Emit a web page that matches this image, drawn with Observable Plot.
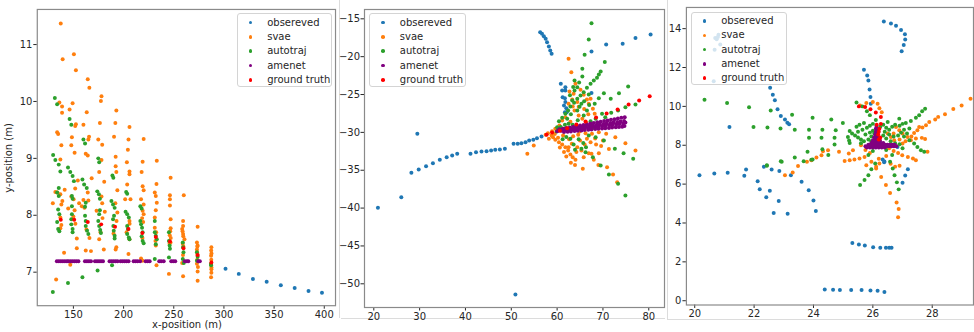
<!DOCTYPE html>
<html><head><meta charset="utf-8">
<script src="https://cdn.jsdelivr.net/npm/d3@7"></script>
<script src="https://cdn.jsdelivr.net/npm/@observablehq/plot@0.6"></script>
<style>
body{margin:0;background:#fff;font-family:"DejaVu Sans",sans-serif;}
#root{position:relative;width:974px;height:332px;overflow:hidden;background:#fff;}
.panel{position:absolute;top:0;overflow:hidden;}
.legend{position:absolute;border:1px solid #d4d4d4;border-radius:3px;background:rgba(255,255,255,0.8);box-sizing:border-box;}
.legend .row{position:absolute;left:0;height:14px;width:100%;}
.legend .mk{position:absolute;width:3.6px;height:3.6px;border-radius:50%;top:5.2px;}
.legend .tx{position:absolute;top:0;font-size:10px;line-height:14px;color:#262626;white-space:nowrap;}
.lbl{position:absolute;font-size:10px;color:#262626;white-space:nowrap;}
.edge{position:absolute;background:#dcdcdc;}
</style></head><body><div id="root"></div>
<script>
const seriesNames = ["obsereved", "svae", "autotraj", "amenet", "ground truth"];
const seriesColors = ["#1f77b4", "#ff7f0e", "#2ca02c", "purple", "red"];

// ---------- Panel 1 ----------
const p1Ticks = {x: [150, 200, 250, 300, 350, 400], y: [7, 8, 9, 10, 11]};
const p1Observed = [[301.6,7.06],[314.8,6.97],[328.9,6.88],[342.6,6.83],[356.7,6.77],[370.5,6.72],[384.3,6.67],[397.7,6.64]];
const p1Svae = [
[137.4,11.37],[139.3,10.74],[136,9.98],[138.7,9.91],[138.7,9.80],[133.8,9.46],[134.8,9.43],[138,9.23],[137,8.98],[132,8.41],[137,8.37],[129.5,8.21],[141.3,8.45],[138,8.19],[137,7.96],[138,7.83],[137,7.77],[140.7,7.34],[132.8,6.87],[134,8.4],[139,8.25],
[150.5,10.83],[152.5,10.55],[149.2,9.97],[146.2,9.86],[152.5,9.60],[151.8,9.57],[148.5,9.37],[147.9,9.23],[151.2,9.10],[154.4,8.61],[151.8,8.47],[147.9,8.33],[150.2,8.28],[144.8,8.12],[155.7,8.21],[151.2,8.09],[153.4,7.59],[153.4,7.42],[146.9,7.13],[150,7.98],[152,7.85],
[164.3,10.39],[165.9,10.24],[163.3,9.81],[160,9.59],[165.6,9.38],[164.9,9.33],[162.3,9.08],[164.3,9.05],[160,8.27],[164.9,8.26],[161,8.13],[168.2,8.65],[158.4,8.16],[162.3,7.38],[167.5,7.37],[164.3,8.40],[163,7.75],[166,7.6],
[178,10.09],[177.4,10.01],[176.4,9.62],[178.7,9.24],[174.8,9.33],[178,8.97],[175.7,8.76],[180.7,8.59],[178,8.33],[178.7,8.21],[173.1,8.08],[181.3,8.06],[175.7,7.58],[180.3,7.40],[177,7.7],[179,7.95],
[192.8,9.84],[191.8,9.62],[190.5,9.38],[192.1,9.03],[192.1,8.86],[192.8,8.76],[193.8,8.44],[191.8,8.21],[193.8,8.05],[192.8,7.44],[192.1,7.40],[190,7.68],[193,7.9],
[205.9,9.55],[204.9,9.33],[204.3,9.15],[203.3,8.93],[205.9,8.77],[205.9,8.72],[203.6,8.54],[206.9,8.28],[205.9,7.90],[205.9,7.58],[204.9,7.32],[201.6,8.28],[203,7.7],[206,7.85],
[220,9.34],[219,8.94],[218,8.76],[219,8.51],[220,8.44],[217.4,8.28],[220,8.19],[219,8.08],[220,8.02],[217.4,7.24],[219,7.20],[218.5,7.95],[219.5,7.88],[218.8,7.6],
[233.1,8.96],[232.8,8.55],[231.1,8.40],[232.1,8.34],[233.1,8.22],[232.1,8.09],[231.1,7.96],[231.1,7.78],[232.1,7.47],[232.8,7.12],[232.5,7.7],[231.8,7.55],
[246.9,8.66],[246.2,8.35],[246.2,8.28],[246.2,8.17],[246.9,7.93],[246.9,7.77],[245.2,6.97],[247,7.6],[246.5,7.72],[246,7.65],[246.8,7.52],[245.8,7.5],
[260,8.35],[259.3,7.90],[259.3,7.81],[258.4,7.76],[259.3,7.67],[260.7,7.58],[258.4,7.16],[259.3,6.93],[258.8,7.72],[259.5,7.63],[259,7.5],[259.6,7.45],[259.2,7.3],
[273.8,7.80],[273.1,7.52],[273.8,7.47],[273.1,7.40],[274.1,7.09],[273.8,7.01],[273.8,6.85],[273.5,7.45],[273.2,7.35],[273.6,7.3],[273.4,7.22],[273.1,7.15],
[287.5,7.44],[287.2,7.29],[287.5,7.05],[287.5,6.99],[287.2,6.91],[287.3,7.38],[287.6,7.33],[287.4,7.22],[287.2,7.13],[287.6,7.08]];
const p1Autotraj = [
[131.5,10.06],[133.8,9.95],[129.8,9.06],[132,8.97],[135.4,8.89],[137,8.77],[135.4,8.48],[133.8,8.40],[135.4,8.34],[134.8,8.10],[136,8.02],[133.8,7.88],[134.8,7.76],[136,7.72],[129.5,6.65],
[146.2,9.69],[147.9,9.59],[144.6,8.84],[146.9,8.76],[149.2,8.69],[150.5,8.60],[148.5,8.34],[149.2,8.29],[148.5,8.16],[148.5,8.02],[147.9,7.93],[147.9,7.84],[149.2,7.76],[149.2,7.70],[144.6,6.81],
[160,9.33],[161.6,9.26],[159,8.63],[160.7,8.54],[163.3,8.48],[162.3,8.22],[161.6,8.15],[161.6,7.99],[162.3,7.90],[162.3,7.81],[163.6,7.73],[164.9,7.67],[159,6.91],
[174.8,9.00],[175.7,8.93],[173.8,8.42],[175.4,8.37],[176.4,8.29],[176.4,8.09],[175.7,8.02],[174.8,7.90],[175.7,7.81],[176.7,7.74],[177.4,7.69],[174.1,7.03],
[188.9,8.70],[189.8,8.66],[187.9,8.25],[189.5,8.19],[191.1,8.13],[190.5,7.99],[189.5,7.93],[189.8,7.81],[190.2,7.73],[191.1,7.64],[191.1,7.59],[188.5,7.12],
[202.6,8.41],[203.6,8.38],[202,8.06],[203.6,8.02],[205.2,7.96],[203.6,7.81],[204.3,7.76],[203.6,7.67],[205.2,7.61],[205.9,7.58],
[216.7,8.16],[218,8.12],[216.7,7.90],[217.4,7.84],[218.4,7.78],[219,7.70],[218,7.63],[219,7.55],[220,7.51],
[231.1,7.90],[231.1,7.70],[232.1,7.64],[233.1,7.58],[232.1,7.49],[231.1,7.23],
[245.2,7.70],[245.2,7.55],[245.9,7.47],[246.2,7.41],[245.2,7.26],
[259,7.52],[259.3,7.44],[259.7,7.35],[259,7.23],[260,7.16],
[273.1,7.35],[273.8,7.27],[273.1,7.20],
[287.2,7.15],[287.2,7.12]];
const p1Amenet = [
[133.5,7.19],[135.5,7.19],[137.5,7.19],[139.5,7.19],[141.5,7.19],[143.5,7.19],[145,7.19],
[147,7.19],[149,7.19],[151,7.19],[153,7.19],[155,7.19],
[161.5,7.19],[163.5,7.19],[165.5,7.19],[167.5,7.19],
[171.5,7.19],[173.5,7.19],[175.5,7.19],[177.5,7.19],[179.5,7.19],
[186,7.19],[188,7.19],[190,7.19],[192,7.19],[194,7.19],
[197,7.19],[199,7.19],[201,7.19],[203,7.19],[205,7.19],
[210,7.19],[212,7.19],[214,7.19],[216.5,7.19],
[222,7.19],[224,7.19],[226,7.19],
[235.5,7.19],[237.5,7.19],[240,7.19],
[247.5,7.19],[249.5,7.19],[251.5,7.19],
[261,7.19],[263,7.19],[264.5,7.19],
[274.5,7.19],[276,7.19]];
const p1Truth = [[137.4,7.92],[150.8,7.92],[164.3,7.88],[177.7,7.84],[191.5,7.80],[204.9,7.76],[218.7,7.69],[232.1,7.62],[246.2,7.54],[259.7,7.42],[273.8,7.30],[287.5,7.17]];

// ---------- Panel 2 ----------
const p2Ticks = {x: [20, 30, 40, 50, 60, 70, 80], y: [-50, -45, -40, -35, -30, -25, -20, -15]};
const p2Observed = [
[20.9,-39.97],[26.0,-38.56],[28.2,-35.34],[29.8,-34.9],[29.5,-30.19],[31.4,-34.46],[32.9,-34.07],[34.4,-33.63],[35.9,-33.27],[37.1,-33.05],[38.2,-32.83],
[41.1,-32.83],[42.3,-32.61],[43.5,-32.53],[44.6,-32.48],[45.6,-32.39],[46.5,-32.3],[47.5,-32.26],[48.6,-32.17],
[50.5,-31.51],[51.4,-31.51],[52.2,-31.42],[53.1,-31.29],[53.9,-31.07],[54.8,-30.98],[55.6,-30.76],[56.6,-30.54],
[50.9,-51.42],
[56.3,-16.76],[56.7,-16.98],[57.1,-17.29],[57.5,-17.64],[57.8,-18.08],[58.2,-18.65],[58.5,-19.18],[58.8,-19.62],
[67.5,-19.32],[70.7,-18.39],[74.3,-18.30],[77.1,-17.55],[80.4,-17.07],
[60.8,-23.59],[61.8,-24.03],[61.1,-24.47],[61.8,-24.47],[61.2,-25.35],[61.7,-25.48],[61.8,-26.0],[61.5,-26.45],[62.0,-26.8],[61.7,-27.33],[62.1,-27.33],[67.5,-24.8]];
const p2Svae = [
[62.5,-20.28],[63.1,-22.05],[64.0,-23.59],[65.1,-24.38],[65.8,-25.04],[66.5,-25.66],[63.3,-25.66],[62.5,-26.23],[63.4,-26.58],[64.4,-26.0],[67.3,-25.57],[66.9,-26.23],[67.8,-26.89],[68.2,-27.55],
[61.8,-27.99],[61.1,-28.43],[60.5,-29.09],[59.6,-29.53],[58.9,-29.84],[58.0,-30.1],[53.5,-32.83],[54.9,-31.73],[59.1,-30.63],[59.6,-30.98],[60.4,-31.29],[61.1,-31.6],[61.8,-31.95],[62.4,-32.39],
[62.9,-32.92],[63.4,-33.27],[64.0,-33.63],[65.6,-34.82],[66.9,-32.75],[67.5,-32.83],[69.1,-32.75],[68.5,-31.6],[70.0,-31.07],[70.7,-30.19],[72.7,-30.63],[74.9,-31.42],[77.1,-32.39],
[70.9,-34.6],[72.2,-35.56],[73.1,-36.58],[64.4,-31.95],[65.3,-32.39],[65.8,-33.27],[62.5,-31.95],[65.0,-31.07],[66.5,-30.85],[67.6,-30.19],[69.1,-29.97],[58.2,-30.85],[58.8,-30.41],
[63.8,-27.11],[64.7,-27.77],[65.5,-28.21],[66.3,-28.65],[57.5,-30.3],[59.5,-30.2],[60.2,-30.7],[61.3,-30.4],[62.6,-30.9],[63.5,-30.5],[64.6,-30.3],[63.2,-31.5],[64.2,-32.6],[61.5,-32.6],
[60.6,-32.0],[62.0,-33.2],[63.0,-34.0],[63.9,-34.3],[66.0,-31.6],[67.3,-31.3],[68.3,-30.8],[69.6,-31.8],[71.3,-32.2],[68.0,-33.6],[69.0,-34.3],[62.9,-28.6],[63.9,-29.3],[61.9,-29.5],
[64.7,-26.6],[65.9,-26.9],[66.8,-27.6],[62.7,-24.6],[63.6,-24.9],[64.9,-29.9],[66.2,-30.1],[60.3,-29.7]];
const p2Autotraj = [
[67.5,-15.57],[66.9,-17.73],[66.0,-19.76],[70.4,-20.72],[65.5,-21.6],[69.5,-21.96],[69.1,-22.35],[68.7,-22.79],[68.0,-23.15],[67.3,-23.59],[66.5,-24.11],[65.8,-24.69],[65.1,-25.13],[64.4,-25.57],
[65.5,-22.62],[63.8,-23.15],[64.4,-24.03],[70.2,-24.82],[69.1,-25.48],[68.2,-26.23],[71.7,-25.57],[73.5,-24.82],[75.5,-23.94],[77.1,-26.32],[74.9,-26.67],[73.3,-27.11],[69.8,-27.55],[68.4,-28.21],[67.3,-28.52],
[63.3,-25.79],[62.9,-26.58],[62.4,-27.11],[61.8,-27.55],[61.1,-28.08],[60.4,-28.52],[60.0,-29.31],[62.9,-30.85],[63.6,-31.6],[65.3,-32.17],[66.2,-32.61],[66.3,-31.95],[67.8,-33.27],[69.5,-34.38],
[71.3,-35.56],[73.3,-36.8],[74.9,-38.34],[74.5,-32.75],[76.6,-33.49],[72.6,-32.17],[70.2,-31.07],[68.4,-30.63],[66.9,-30.41],[64.2,-29.31],[62.5,-28.87],[61.5,-29.53],[64.4,-27.11],[65.8,-27.77],
[66.5,-27.11],[65.3,-26.23],[63.8,-24.47],[62.2,-28.2],[63.0,-27.6],[63.7,-26.1],[64.9,-26.6],[65.9,-25.9],[66.9,-25.0],[64.5,-28.4],[61.7,-29.0],[60.8,-29.3],[59.9,-29.9],[63.4,-29.0],
[64.7,-30.9],[65.7,-31.4],[63.9,-32.3],[62.0,-30.6],[61.2,-30.9],[67.9,-29.4],[70.5,-28.0],[71.8,-27.4],[67.0,-26.4],[62.8,-25.1],[63.5,-24.0],[64.8,-23.4]];
const p2Amenet = [
[60.5,-29.6],[61.25,-29.52],[62,-29.43],[62.75,-29.35],[63.5,-29.26],[64.25,-29.18],[65,-29.1],[65.75,-29.01],[66.5,-28.93],[67.25,-28.84],[68,-28.76],[68.75,-28.67],[69.5,-28.59],[70.25,-28.51],[71,-28.42],[71.75,-28.34],[72.5,-28.25],[73.25,-28.17],[74,-28.08],[74.75,-28.0],
[60.3,-29.75],[61.1,-29.68],[61.8,-29.62],[62.6,-29.55],[63.3,-29.49],[64.1,-29.42],[64.8,-29.36],[65.6,-29.29],[66.3,-29.22],[67.1,-29.16],[67.8,-29.09],[68.6,-29.03],[69.3,-28.96],[70.1,-28.9],[70.8,-28.83],[71.6,-28.76],[72.3,-28.7],[73.1,-28.63],[73.8,-28.57],[74.6,-28.5],
[60.0,-29.85],[60.9,-29.8],[61.6,-29.74],[62.4,-29.69],[63.1,-29.64],[63.9,-29.59],[64.6,-29.53],[65.4,-29.48],[66.1,-29.43],[66.9,-29.38],[67.6,-29.32],[68.4,-29.27],[69.1,-29.22],[69.9,-29.17],[70.6,-29.11],[71.4,-29.06],[72.1,-29.01],[72.9,-28.96],[73.6,-28.9],[74.4,-28.85],
[61.5,-29.95],[62.3,-29.91],[63.0,-29.87],[63.8,-29.83],[64.5,-29.78],[65.3,-29.74],[66.0,-29.7],[66.8,-29.66],[67.5,-29.62],[68.3,-29.57],[69.0,-29.53],[69.8,-29.49],[70.5,-29.45],[71.3,-29.41],[72.0,-29.36],[72.8,-29.32],[73.5,-29.28],[74.2,-29.24],[74.7,-29.15],[74.9,-28.7]];
const p2Truth = [[57.7,-30.32],[58.9,-30.02],[60.6,-29.8],[62.2,-29.45],[64.2,-28.96],[66.2,-28.56],[68.5,-28.04],[70.8,-27.51],[73.2,-26.98],[75.6,-26.32],[77.9,-25.79],[80.2,-25.22]];

// ---------- Panel 3 ----------
const p3Ticks = {x: [20, 22, 24, 26, 28], y: [0, 2, 4, 6, 8, 10, 12, 14]};
const p3Observed = [
[20.16,6.46],[20.66,6.55],[21.11,6.58],[21.67,6.43],[21.73,6.75],[22.12,6.15],[22.19,5.74],[22.41,5.33],[22.33,6.89],[22.59,6.75],[22.53,5.66],[22.85,6.67],[22.83,5.13],[22.66,4.51],[23.13,4.48],
[23.24,6.46],[23.60,6.12],[23.84,5.69],[24.0,5.16],[24.08,4.62],
[25.31,2.97],[25.53,2.89],[25.73,2.84],[26.01,2.75],[26.25,2.73],[26.44,2.73],[26.55,2.73],[26.63,2.72],
[24.38,0.58],[24.66,0.56],[24.89,0.55],[25.27,0.55],[25.62,0.55],[25.92,0.53],[26.16,0.51],[26.39,0.45],
[27.09,6.44],[27.18,6.77],[27.0,6.07],[26.38,7.13],
[26.37,14.37],[26.61,14.27],[26.78,14.15],[26.95,13.93],[27.08,13.71],[27.09,13.44],[27.04,13.16],[26.97,12.84],
[20.69,13.52],[20.8,13.69],[20.78,13.57],[20.86,13.18],[20.67,12.92],[20.64,11.29],[20.74,13.45],
[21.17,8.94],[22.54,10.96],[22.63,10.6],[22.7,10.31],[22.79,9.85],[22.9,9.51],[23.04,9.33],[23.12,9.16],[23.18,9.08],
[25.7,11.88],[25.81,11.59],[25.85,11.33],[25.89,10.87],[25.92,10.48],[25.93,10.14],[26.33,7.27],[26.39,7.16],[26.83,7.91]];
const p3Svae = [
[29.29,10.39],[28.99,10.05],[28.71,9.87],[28.43,9.59],[28.2,9.46],[28.1,9.33],[27.9,9.2],[27.79,9.03],[27.67,8.91],[27.5,8.77],[27.39,8.63],[27.56,8.94],
[27.76,8.32],[27.65,8.38],[27.84,7.66],[27.45,7.23],[27.35,7.32],[27.18,7.4],[26.99,7.49],[27.3,8.45],[27.45,8.35],
[24.27,7.49],[24.1,7.37],[23.93,7.23],[23.78,7.15],[23.48,6.93],[23.3,6.6],[23.04,6.46],
[24.32,7.69],[24.49,7.74],[24.86,7.66],[25.05,7.19],[25.22,7.23],[25.38,7.27],[25.55,7.32],[25.72,7.4],[25.33,7.74],[25.19,7.57],[25.78,6.97],[26.11,6.8],[26.28,6.37],[26.44,5.95],[26.58,5.54],
[26.8,5.06],[26.87,4.72],[26.85,4.29],[26.11,6.89],[26.22,7.06],
[25.57,10.05],[25.78,10.17],[26.0,10.22],[26.16,10.14],[26.22,9.9],[26.3,9.7],
[26.78,8.94],[26.89,8.77],[27.0,8.6],[27.17,8.43],[27.28,8.26],[26.61,8.43],[26.72,8.26],[27.0,8.09],[26.9,8.3],[27.1,8.2],[26.5,8.6],[26.7,8.6],[26.55,7.85],[26.7,7.7],[26.85,7.6],
[25.6,8.0],[25.75,7.75],[25.9,7.6],[26.45,7.45],[26.2,7.3],[25.95,7.15],[26.6,7.05],[26.75,6.9],[26.9,6.95]];
const p3Autotraj = [
[20.33,10.34],[21.09,10.17],[21.83,9.96],[21.98,8.94],[22.45,8.91],[22.56,9.79],[22.89,8.86],[23.28,9.57],[23.37,8.8],[23.85,8.8],[23.97,9.42],[24.6,9.32],[24.75,8.77],[24.99,9.14],[25.22,8.73],
[24.3,8.8],[23.85,8.39],[24.27,8.39],[24.71,8.39],[25.16,8.43],[23.37,7.37],[23.8,7.66],[24.3,7.79],[24.71,8.04],[25.22,8.12],[22.93,7.15],[22.43,6.97],[23.97,7.27],[24.5,7.5],
[27.76,9.88],[27.66,9.75],[27.56,9.54],[27.45,9.42],[27.28,9.25],[27.11,9.14],[26.89,9.37],[27.23,8.86],[27.5,7.91],[27.62,7.74],[27.73,7.66],[27.39,8.09],[27.23,8.26],
[25.57,5.95],[25.72,6.21],[25.85,6.46],[25.95,6.77],[26.08,7.06],[26.67,6.8],[26.73,6.46],[26.81,6.09],[26.87,5.73],[26.58,7.15],[22.43,6.94],[22.9,7.18],[23.67,7.18],[23.93,7.26],
[25.45,10.2],[25.65,10.0],[25.8,9.75],[25.9,9.55],
[25.4,8.5],[25.5,8.4],[25.6,8.3],[25.5,8.7],[25.65,8.8],[25.8,8.9],[25.9,9.0],[26.0,9.1],[25.75,8.55],[25.9,8.65],[26.0,8.75],
[26.25,8.95],[26.35,9.05],[26.45,8.9],[26.55,8.8],[26.65,8.95],[26.75,9.05],[26.4,8.7],[26.55,8.55],[26.7,8.45],[26.85,8.5],[26.95,8.65],[27.05,8.8],
[25.6,8.1],[25.7,8.2],[25.85,8.3],[25.95,8.45],[26.35,8.5],[26.45,8.35],[26.6,8.2],[26.75,8.1],[26.9,8.05],[27.05,8.45],[27.15,8.6],
[25.45,8.95],[25.55,9.05],[25.7,9.15],[26.1,9.3],[26.5,9.2],[26.9,9.0],[27.0,9.1],[25.95,8.2],[26.05,8.6],[25.3,8.6],[25.2,8.25],
[26.0,7.7],[25.85,7.5],[26.45,7.75],[26.65,7.5],[27.0,7.85]];
const p3Amenet = [
[25.75,7.95],[25.83,7.95],[25.91,7.95],[25.99,7.95],[26.07,7.95],[26.15,7.95],[26.23,7.95],[26.31,7.95],[26.39,7.95],[26.47,7.95],[26.55,7.95],[26.63,7.95],[26.71,7.95],[26.79,7.95],
[25.85,8.03],[25.93,8.03],[26.01,8.03],[26.09,8.03],[26.17,8.03],[26.25,8.03],[26.33,8.03],[26.41,8.03],[26.49,8.03],[26.57,8.03],[26.65,8.03],[26.73,8.03],
[25.8,7.88],[25.9,7.88],[26.0,7.88],[26.1,7.88],[26.2,7.88],[26.3,7.88],[26.4,7.88],
[25.95,8.12],[26.03,8.12],[26.11,8.12],[26.19,8.12],[26.27,8.12],[26.35,8.12],
[26.0,8.25],[26.08,8.25],[26.16,8.25],[26.24,8.25],[26.04,8.4],[26.12,8.4],[26.2,8.4],
[26.08,8.55],[26.16,8.55],[26.1,8.7],[26.16,8.7],[26.1,8.85],[26.14,8.85],[26.12,9.0]];
const p3Truth = [[25.53,10.0],[25.74,9.97],[25.92,9.85],[26.1,9.68],[26.27,9.45],[26.13,9.06],[26.27,9.1],[26.22,8.85],[26.2,8.7],[26.18,8.55],[26.25,8.4],[26.2,8.3]];

// ---------- Drawing ----------
const root = document.getElementById("root");

function panel(opts) {
  const series = [opts.observed, opts.svae, opts.autotraj, opts.amenet, opts.truth];
  const chart = Plot.plot({
    width: opts.width, height: 332,
    marginLeft: opts.ml, marginRight: opts.mr, marginTop: opts.mt, marginBottom: opts.mb,
    style: {fontFamily: "DejaVu Sans", fontSize: "10px", color: "#262626", overflow: "visible", background: "transparent"},
    x: {domain: opts.xDomain, ticks: opts.ticks.x, tickFormat: d3.format("d"), label: null, tickSize: 3.5, tickPadding: 1.5},
    y: {domain: opts.yDomain, ticks: opts.ticks.y, tickFormat: d3.format("d"), label: null, tickSize: 3.5, tickPadding: opts.yPad},
    marks: [
      ...series.map((s, i) => Plot.dot(s, {x: d => d[0], y: d => d[1], r: 2, fill: seriesColors[i], stroke: "none"})),
      Plot.frame({stroke: "#8a8a8a", strokeWidth: 1.2})
    ]
  });
  const wrap = document.createElement("div");
  wrap.className = "panel";
  wrap.style.left = opts.left + "px";
  wrap.style.width = opts.clipWidth + "px";
  wrap.style.height = "332px";
  chart.style.position = "absolute";
  chart.style.left = opts.svgLeft + "px";
  chart.style.top = "0px";
  wrap.appendChild(chart);
  root.appendChild(wrap);
}

function legend(left, top, width, height) {
  const box = document.createElement("div");
  box.className = "legend";
  Object.assign(box.style, {left: left + "px", top: top + "px", width: width + "px", height: height + "px"});
  seriesNames.forEach((name, i) => {
    const row = document.createElement("div");
    row.className = "row";
    row.style.top = (1.4 + i * 14.3) + "px";
    const mk = document.createElement("div");
    mk.className = "mk";
    mk.style.left = "11.2px";
    mk.style.background = seriesColors[i];
    const tx = document.createElement("div");
    tx.className = "tx";
    tx.style.left = "29.5px";
    tx.textContent = name;
    row.appendChild(mk); row.appendChild(tx);
    box.appendChild(row);
  });
  root.appendChild(box);
}

function edge(l, t, w, h) {
  const e = document.createElement("div");
  e.className = "edge";
  Object.assign(e.style, {left: l + "px", top: t + "px", width: w + "px", height: h + "px"});
  root.appendChild(e);
}

edge(338.5, 0, 1, 318); edge(341, 318, 324, 1);
edge(667, 0, 1, 320); edge(668, 319, 306, 1);

panel({left: 0, clipWidth: 338, svgLeft: 0, width: 340, ml: 37, mr: 3, mt: 9, mb: 25, yPad: 1.5,
  xDomain: [114, 411.2], yDomain: [6.411, 11.617], ticks: p1Ticks,
  observed: p1Observed, svae: p1Svae, autotraj: p1Autotraj, amenet: p1Amenet, truth: p1Truth});
panel({left: 337, clipWidth: 330, svgLeft: 3, width: 324, ml: 24, mr: 0, mt: 9, mb: 25, yPad: 1,
  xDomain: [17.97, 83.43], yDomain: [-53.13, -13.77], ticks: p2Ticks,
  observed: p2Observed, svae: p2Svae, autotraj: p2Autotraj, amenet: p2Amenet, truth: p2Truth});
panel({left: 669, clipWidth: 305, svgLeft: -1, width: 306.5, ml: 18, mr: 0, mt: 7, mb: 26, yPad: 1.5,
  xDomain: [19.72, 29.39], yDomain: [-0.22, 15.09], ticks: p3Ticks,
  observed: p3Observed, svae: p3Svae, autotraj: p3Autotraj, amenet: p3Amenet, truth: p3Truth});

legend(236.7, 13.3, 95.6, 74);
legend(369.3, 13.3, 96.4, 74);
legend(690.7, 11.7, 96, 73.6);

const xl = document.createElement("div");
xl.className = "lbl"; xl.textContent = "x-position (m)";
Object.assign(xl.style, {left: "187px", top: "319px", transform: "translateX(-50%)"});
root.appendChild(xl);
const yl = document.createElement("div");
yl.className = "lbl"; yl.textContent = "y-position (m)";
Object.assign(yl.style, {left: "7.5px", top: "158px", transform: "translate(-50%,-50%) rotate(-90deg)"});
root.appendChild(yl);
</script>
</body></html>
